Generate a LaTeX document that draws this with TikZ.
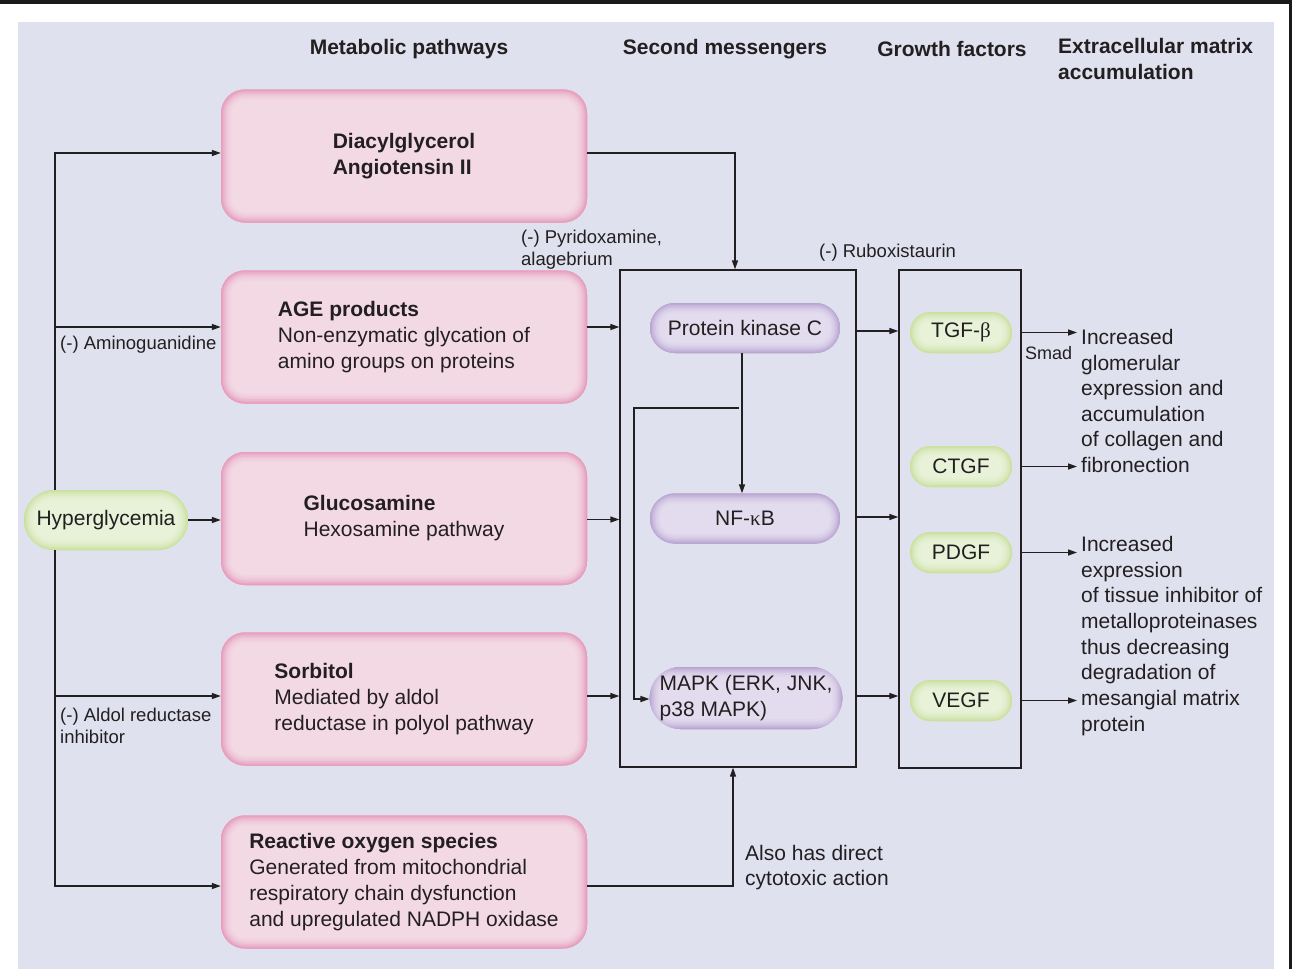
\documentclass[tikz,border=0pt]{standalone}
\usepackage{fontspec}
\setmainfont{Liberation Sans}
\newfontfamily\grk{Liberation Serif}
\usetikzlibrary{arrows.meta,shapes.misc}
\definecolor{panelbg}{RGB}{223,225,239}
\definecolor{topbar}{RGB}{26,26,26}
\definecolor{ink}{RGB}{35,31,32}
\definecolor{pinkfill}{RGB}{243,217,228}
\definecolor{pinkedge}{RGB}{230,158,189}
\definecolor{purpfill}{RGB}{227,220,238}
\definecolor{purpedge}{RGB}{184,164,210}
\definecolor{grnfill}{RGB}{232,242,217}
\definecolor{grnedge}{RGB}{202,224,160}
\newcommand\fmain{\fontsize{21}{26}\selectfont}
\newcommand\fsmall{\fontsize{18.5}{22}\selectfont}
\begin{document}
\begin{tikzpicture}[x=1pt,y=-1pt,
  every node/.style={text=ink, inner sep=0pt},
  glowring/.style n args={4}{#1!#2!#3, line width=#4, rounded corners=\glowr},
  glow/.style n args={3}{path picture={
     \def\glowr{#3}
     \foreach \w/\p in {20/8,16/20,12/35,9/52,6/70,3.5/88,1.5/100}{
       \draw[#1!\p!#2, line width=\w pt, rounded corners=#3]
         (path picture bounding box.south west) rectangle (path picture bounding box.north east);
     }
  }},
  pinkbox/.style={rectangle, rounded corners=24pt, fill=pinkfill,
     glow={pinkedge}{pinkfill}{24pt},
     minimum width=366pt, minimum height=133pt, align=left, font=\fmain},
  purpbox/.style={rounded rectangle, fill=purpfill, glow={purpedge}{purpfill}{23pt},
     minimum width=190pt, minimum height=50pt, align=left, font=\fmain},
  grnbox/.style={rounded rectangle, fill=grnfill, glow={grnedge}{grnfill}{19pt},
     minimum width=102pt, minimum height=41pt, font=\fmain},
  frame/.style={rectangle, draw=ink, line width=1.3pt},
  conn/.style={draw=ink, line width=1.4pt},
  arr/.style={conn, -{Triangle[length=9pt,width=6pt]}},
  hdr/.style={font=\fmain\bfseries},
  lab/.style={font=\fsmall, align=left},
  txt/.style={font=\fmain, align=left}
]
\useasboundingbox (0,0) rectangle (1292,969);
\fill[white] (0,0) rectangle (1292,969);
\fill[topbar] (0,0) rectangle (1292,4);
\fill[panelbg] (18,22) rectangle (1274,969);
\fill[topbar] (1289,0) rectangle (1292,969);

% headers
\node[hdr] (h1) at (409,49) {Metabolic pathways};
\node[hdr] (h2) at (725,49) {Second messengers};
\node[hdr] (h3) at (952,49) {Growth factors};
\node[hdr, anchor=west, align=left] (h4) at (1058,59) {Extracellular matrix\\accumulation};

% frames
\node[frame, minimum width=236pt, minimum height=497pt] (sm) at (738,518.5) {};
\node[frame, minimum width=122pt, minimum height=498pt] (gf) at (960,519) {};

% metabolic boxes
\node[pinkbox] (b1) at (404,156) {\textbf{Diacylglycerol}\\\textbf{Angiotensin II}};
\node[pinkbox] (b2) at (404,337) {\textbf{AGE products}\\Non-enzymatic glycation of\\amino groups on proteins};
\node[pinkbox] (b3) at (404,518.5) {\textbf{Glucosamine}\\Hexosamine pathway};
\node[pinkbox] (b4) at (404,699) {\textbf{Sorbitol}\\Mediated by aldol\\reductase in polyol pathway};
\node[pinkbox] (b5) at (404,882) {\textbf{Reactive oxygen species}\\Generated from mitochondrial\\respiratory chain dysfunction\\and upregulated NADPH oxidase};

% hyperglycemia
\node[rounded rectangle, fill=grnfill, glow={grnedge}{grnfill}{28pt},
  minimum width=164pt, minimum height=60pt, font=\fmain] (hyper) at (106,520) {Hyperglycemia};

% second messengers
\node[purpbox] (pkc) at (745,328) {Protein kinase C};
\node[purpbox] (nfkb) at (745,518.5) {NF-{\grk κ}B};
\node[purpbox, minimum width=192pt, minimum height=62pt] (mapk) at (746,698) {MAPK (ERK, JNK,\\p38 MAPK)};

% growth factors
\node[grnbox] (tgf) at (961,332.5) {TGF-{\grk β}};
\node[grnbox] (ctgf) at (961,466.5) {CTGF};
\node[grnbox] (pdgf) at (961,552.5) {PDGF};
\node[grnbox] (vegf) at (961,700.5) {VEGF};

% coordinates
\coordinate (trunkx) at (55,0);
\coordinate (outx) at (1077,0);
\coordinate (br) at (739,408);
\coordinate (brc) at (634,408);

% left trunk
\draw[arr] (hyper.north -| trunkx) |- ([yshift=3pt]b1.west);
\draw[arr] ([yshift=10pt]b2.west -| trunkx) -- ([yshift=10pt]b2.west);
\draw[arr] (hyper.south -| trunkx) |- ([yshift=-4pt]b5.west);
\draw[arr] ([yshift=3pt]b4.west -| trunkx) -- ([yshift=3pt]b4.west);
\draw[arr] (hyper.east) -- (hyper.east -| b3.west);

% boxes to second messengers
\draw[arr] ([yshift=3pt]b1.east) -| ([xshift=-3pt]sm.north);
\draw[arr] ([yshift=10pt]b2.east) -- ([yshift=10pt]b2.east -| sm.west);
\draw[arr] ([yshift=-1pt]b3.east) -- ([yshift=-1pt]b3.east -| sm.west);
\draw[arr] ([yshift=3pt]b4.east) -- ([yshift=3pt]b4.east -| sm.west);
\draw[arr] ([yshift=-4pt]b5.east) -| ([xshift=-5pt]sm.south);

% inside second messengers
\draw[arr] ([xshift=-3pt]pkc.south) -- ([xshift=-3pt]nfkb.north);
\draw[arr] (br) -- (brc) |- ([yshift=-1pt]mapk.west);

% second messengers to growth factors
\draw[arr] ([yshift=-3pt]pkc.east -| sm.east) -- ([yshift=-3pt]pkc.east -| gf.west);
\draw[arr] ([yshift=1.5pt]nfkb.east -| sm.east) -- ([yshift=1.5pt]nfkb.east -| gf.west);
\draw[arr] ([yshift=2pt]mapk.east -| sm.east) -- ([yshift=2pt]mapk.east -| gf.west);

% growth factors to outcomes
\draw[arr] (tgf.east -| gf.east) -- (tgf.east -| outx);
\draw[arr] (ctgf.east -| gf.east) -- (ctgf.east -| outx);
\draw[arr] (pdgf.east -| gf.east) -- (pdgf.east -| outx);
\draw[arr] (vegf.east -| gf.east) -- (vegf.east -| outx);

% labels
\node[lab, anchor=west] (lAmino) at (60,345) {(-) Aminoguanidine};
\node[lab, anchor=west] (lAldol) at (60,726) {(-) Aldol reductase\\inhibitor};
\node[lab, anchor=west] (lPyr) at (521,250) {(-) Pyridoxamine,\\alagebrium};
\node[lab, anchor=west] (lRub) at (819,253) {(-) Ruboxistaurin};
\node[font=\fontsize{18}{22}\selectfont, anchor=west] (lSmad) at (1025,353) {Smad};
\node[txt, anchor=west, font=\fontsize{21}{25}\selectfont] (lAlso) at (745,868) {Also has direct\\cytotoxic action};

% outcomes
\node[txt, anchor=west, font=\fontsize{21}{25.6}\selectfont] (o1) at (1081,401)
  {Increased\\glomerular\\expression and\\accumulation\\of collagen and\\fibronection};
\node[txt, anchor=west, font=\fontsize{21}{25.7}\selectfont] (o2) at (1081,636)
  {Increased\\expression\\of tissue inhibitor of\\metalloproteinases\\thus decreasing\\degradation of\\mesangial matrix\\protein};
\end{tikzpicture}
\end{document}
